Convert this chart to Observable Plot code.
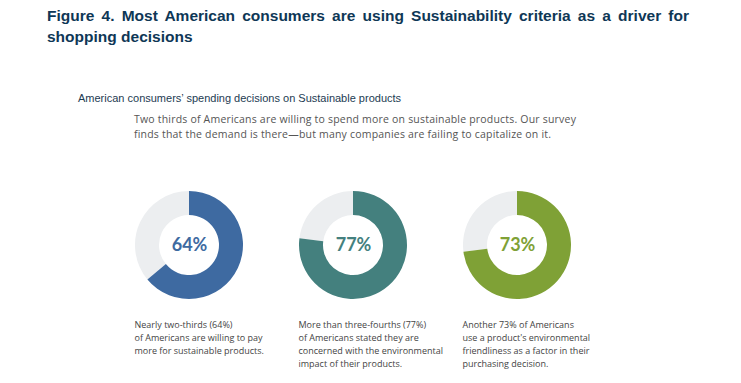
<!DOCTYPE html>
<html>
<head>
<meta charset="utf-8">
<script src="https://cdn.jsdelivr.net/npm/d3@7"></script>
<script src="https://cdn.jsdelivr.net/npm/@observablehq/plot@0.6"></script>
<style>
  body { margin: 0; background: #fff; width: 741px; height: 383px; overflow: hidden; }
  #head { position: relative; height: 165px; }
  .title { position: absolute; left: 47px; top: 5px; width: 642px; font: bold 15.5px/21px "Liberation Sans", Arial, sans-serif; color: #0e3756; text-align: justify; }
  .sub { position: absolute; left: 78px; top: 92px; font: 11px/13px "Liberation Sans", Arial, sans-serif; color: #1d3b52; white-space: nowrap; }
  .desc { position: absolute; left: 134px; top: 112px; font: 10.5px/15px "Open Sans", sans-serif; letter-spacing: 0.2px; color: #555; white-space: nowrap; }
</style>
</head>
<body>
<div id="head">
  <div class="title">Figure 4. Most American consumers are using Sustainability criteria as a driver for shopping decisions</div>
  <div class="sub">American consumers’ spending decisions on Sustainable products</div>
  <div class="desc">Two thirds of Americans are willing to spend more on sustainable products. Our survey<br>finds that the demand is there—but many companies are failing to capitalize on it.</div>
</div>
<div id="chart"></div>
<script>
const categories = ["Willing to pay more", "Concerned with impact", "Eco-friendliness as a factor"];
const shares = [64, 77, 73];
const labels = ["64%", "77%", "73%"];
const colors = ["#3e6aa1", "#44807e", "#7fa136"];
const captions = [
  "Nearly two-thirds (64%)\nof Americans are willing to pay\nmore for sustainable products.",
  "More than three-fourths (77%)\nof Americans stated they are\nconcerned with the environmental\nimpact of their products.",
  "Another 73% of Americans\nuse a product's environmental\nfriendliness as a factor in their\npurchasing decision."
];

const rows = categories.map((c, i) => ({category: c, share: shares[i], label: labels[i], caption: captions[i], color: colors[i]}));

const centerY = 80;
const outerR = 54, innerR = 30;

function donuts(index, scales, values, dimensions) {
  const g = d3.create("svg:g");
  const x = scales.x;
  const arc = d3.arc().innerRadius(innerR).outerRadius(outerR);
  rows.forEach(d => {
    const cx = x(d.category);
    const a = d.share / 100 * 2 * Math.PI;
    const t = `translate(${cx},${dimensions.marginTop + centerY})`;
    g.append("path").attr("transform", t).attr("fill", "#eceef0")
      .attr("d", arc({startAngle: a, endAngle: 2 * Math.PI}));
    g.append("path").attr("transform", t).attr("fill", d.color)
      .attr("d", arc({startAngle: 0, endAngle: a}));
  });
  return g.node();
}

const chart = Plot.plot({
  width: 741,
  height: 218,
  margin: 0,
  x: {type: "point", domain: categories, range: [189, 517], padding: 0, axis: null},
  color: {domain: categories, range: colors},
  marks: [
    donuts,
    Plot.text(rows, {
      x: "category", text: "label", fill: "category",
      frameAnchor: "top", dy: centerY, lineAnchor: "middle",
      fontSize: 18, fontWeight: "bold", fontFamily: "Lato, 'Open Sans', sans-serif"
    }),
    Plot.text(rows, {
      x: "category", text: "caption", fill: "#444",
      frameAnchor: "top", dy: 153, dx: -55, lineAnchor: "top", textAnchor: "start",
      lineHeight: 1.45, fontSize: 9, fontFamily: "'Open Sans', sans-serif"
    })
  ]
});
document.getElementById("chart").appendChild(chart);
</script>
</body>
</html>
